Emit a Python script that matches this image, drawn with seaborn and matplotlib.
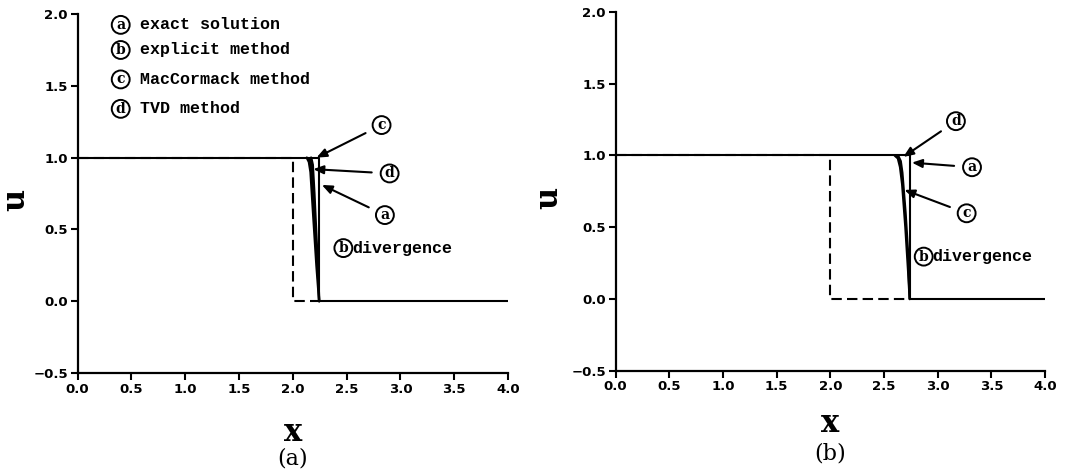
import numpy as np
import pandas as pd
import matplotlib
matplotlib.use("Agg")
import matplotlib.pyplot as plt
import seaborn as sns

sns.set_style("ticks")
plt.rcParams['font.family'] = ['DejaVu Sans']
plt.rcParams['text.color'] = 'black'
plt.rcParams['axes.labelcolor'] = 'black'
plt.rcParams['xtick.color'] = 'black'
plt.rcParams['ytick.color'] = 'black'

# ---------------- data ----------------
# panel (a)
a_exact_x = [0.0, 2.245, 2.245, 4.0]
a_exact_u = [1.0, 1.0, 0.0, 0.0]
a_init_x = [0.0, 2.0, 2.0, 2.245]
a_init_u = [1.0, 1.0, 0.0, 0.0]
a_mac_x = [2.13, 2.15, 2.165, 2.19, 2.22, 2.245]
a_mac_u = [1.0, 0.97, 0.90, 0.60, 0.25, 0.0]
a_tvd_x = [2.17, 2.185, 2.20, 2.225, 2.245]
a_tvd_u = [1.0, 0.95, 0.75, 0.35, 0.0]

# panel (b)
b_exact_x = [0.0, 2.74, 2.74, 4.0]
b_exact_u = [1.0, 1.0, 0.0, 0.0]
b_init_x = [0.0, 2.0, 2.0, 2.74]
b_init_u = [1.0, 1.0, 0.0, 0.0]
b_mac_x = [2.60, 2.63, 2.65, 2.67, 2.70, 2.725, 2.74]
b_mac_u = [1.0, 0.98, 0.92, 0.80, 0.50, 0.20, 0.0]
b_tvd_x = [2.63, 2.655, 2.67, 2.70, 2.725, 2.74]
b_tvd_u = [1.0, 0.96, 0.88, 0.60, 0.30, 0.0]

x_ticks = [0.0, 0.5, 1.0, 1.5, 2.0, 2.5, 3.0, 3.5, 4.0]
y_ticks = [-0.5, 0.0, 0.5, 1.0, 1.5, 2.0]

legend_letters = ['a', 'b', 'c', 'd']
legend_labels = ['exact solution', 'explicit method', 'MacCormack method', 'TVD method']

# annotation (letter, tip, label position)
a_notes = [('c', (2.22, 1.0), (2.825, 1.227)),
           ('d', (2.19, 0.92), (2.90, 0.89)),
           ('a', (2.27, 0.81), (2.856, 0.60))]
b_notes = [('d', (2.68, 0.99), (3.17, 1.239)),
           ('a', (2.76, 0.95), (3.32, 0.918)),
           ('c', (2.69, 0.76), (3.27, 0.597))]
a_div = (2.47, 0.37)
b_div = (2.87, 0.295)

# ---------------- figure ----------------
fig = plt.figure(figsize=(10.73, 4.70), dpi=100)
axA = fig.add_axes([0.0724, 0.2064, 0.4010, 0.7636])
axB = fig.add_axes([0.5738, 0.2113, 0.4001, 0.7632])

circ = dict(boxstyle='circle,pad=0.14', fc='white', ec='black', lw=1.4)
serif = 'DejaVu Serif'
mono = 'Liberation Mono'


def line(ax, xs, us, lw=1.5, dashes=None):
    df = pd.DataFrame({'x': xs, 'u': us})
    l = sns.lineplot(data=df, x='x', y='u', ax=ax, color='black', lw=lw,
                     sort=False, estimator=None)
    if dashes is not None:
        l.lines[-1].set_dashes(dashes)


def panel(ax, exact, init, mac, tvd, notes, div, tag, xlab_y, tag_y, ylab_x):
    line(ax, init[0], init[1], lw=1.5, dashes=(5, 2.5))
    line(ax, exact[0], exact[1], lw=1.5)
    line(ax, mac[0], mac[1], lw=1.8)
    line(ax, tvd[0], tvd[1], lw=1.8)
    # filled wedge between the two numerical curves
    yy = np.linspace(0, 1, 60)
    xm = np.interp(yy, mac[1][::-1], mac[0][::-1])
    xt = np.interp(yy, tvd[1][::-1], tvd[0][::-1])
    ax.fill_betweenx(yy, xm, xt, color='black', lw=0)

    for letter, tip, pos in notes:
        ax.annotate(letter, xy=tip, xytext=pos, ha='center', va='center',
                    fontsize=10, fontweight='bold', family=serif, bbox=circ,
                    arrowprops=dict(arrowstyle='-|>,head_length=0.6,head_width=0.25',
                                    color='black', lw=1.5, shrinkA=6, shrinkB=0))
    ax.text(div[0], div[1], 'b', ha='center', va='center', fontsize=10,
            fontweight='bold', family=serif, bbox=circ)
    ax.text(div[0] + 0.08, div[1], 'divergence', ha='left', va='center',
            fontsize=12, fontweight='bold', family=mono)

    ax.set_xlim(0, 4.0)
    ax.set_ylim(-0.5, 2.0)
    ax.set_xticks(x_ticks)
    ax.set_yticks(y_ticks)
    ax.set_xticklabels([f'{v:.1f}' for v in x_ticks], fontweight='bold')
    ax.set_yticklabels([f'{v:.1f}'.replace('-', '\u2212') for v in y_ticks],
                       fontweight='bold')
    ax.tick_params(direction='out', length=5, width=1.5, labelsize=9.5,
                   color='black', labelcolor='black', pad=2)
    sns.despine(ax=ax)
    for s in ('left', 'bottom'):
        ax.spines[s].set_linewidth(1.6)
        ax.spines[s].set_color('black')

    ax.set_xlabel('x', fontsize=22, fontweight='bold', family=serif)
    ax.xaxis.set_label_coords(0.5, xlab_y)
    ax.xaxis.label.set_va('center')
    ax.set_ylabel('u', fontsize=22, fontweight='bold', family=serif)
    ax.yaxis.set_label_coords(ylab_x, 0.482)
    ax.yaxis.label.set_va('center')
    ax.text(0.5, tag_y, tag, transform=ax.transAxes, ha='center', va='center',
            fontsize=16, family=serif)


panel(axA, (a_exact_x, a_exact_u), (a_init_x, a_init_u), (a_mac_x, a_mac_u),
      (a_tvd_x, a_tvd_u), a_notes, a_div, '(a)', -0.167, -0.238, -0.145)
panel(axB, (b_exact_x, b_exact_u), (b_init_x, b_init_u), (b_mac_x, b_mac_u),
      (b_tvd_x, b_tvd_u), b_notes, b_div, '(b)', -0.146, -0.232, -0.157)

# legend block in panel (a)
leg_y = [1.925, 1.75, 1.545, 1.34]
for letter, label, yv in zip(legend_letters, legend_labels, leg_y):
    axA.text(0.40, yv, letter, ha='center', va='center', fontsize=10,
             fontweight='bold', family=serif, bbox=circ)
    axA.text(0.576, yv, label, ha='left', va='center', fontsize=12,
             fontweight='bold', family=mono)

fig.savefig('out.png', dpi=100)
